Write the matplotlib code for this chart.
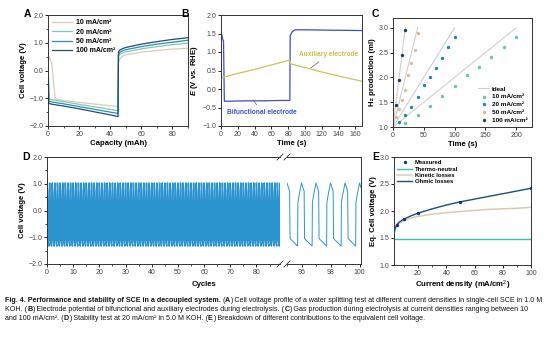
import matplotlib
matplotlib.use("Agg")
import matplotlib.pyplot as plt

plt.rcParams.update({
    "font.family": ["Liberation Sans", "DejaVu Sans"],
    "font.size": 5,
    "axes.linewidth": 0.7,
    "axes.edgecolor": "#333333",
    "xtick.direction": "out",
    "ytick.direction": "out",
    "xtick.major.size": 2.2,
    "ytick.major.size": 2.2,
    "xtick.minor.size": 1.2,
    "ytick.minor.size": 1.2,
    "xtick.major.width": 0.6,
    "ytick.major.width": 0.6,
    "xtick.minor.width": 0.5,
    "ytick.minor.width": 0.5,
    "xtick.major.pad": 1.2,
    "ytick.major.pad": 1.2,
    "xtick.labelsize": 5,
    "ytick.labelsize": 5,
    "xtick.labelcolor": "#444444",
    "ytick.labelcolor": "#444444",
    "axes.labelsize": 5.6,
    "axes.labelweight": "bold",
    "axes.labelpad": 1.5,
    "mathtext.fontset": "custom",
    "mathtext.rm": "Liberation Sans",
    "mathtext.bf": "Liberation Sans:bold",
    "mathtext.it": "Liberation Sans:italic",
    "mathtext.bfit": "Liberation Sans:italic:bold",
})

# ---- panel A: cell voltage vs capacity
A_LABELS = ["10 mA/cm²", "20 mA/cm²", "50 mA/cm²", "100 mA/cm²"]
A_COLORS = ["#d9ccb6", "#7fc8b8", "#2a8fa8", "#1d4d7c"]
A_cap_10 = [0, 1, 2.5, 3.5, 4.7, 10, 20, 30, 40, 45, 45.3, 46.5, 48, 50, 60, 70, 80, 90]
A_v_10 = [0.55, 0.45, 0.25, -0.4, -1.03, -1.08, -1.15, -1.21, -1.27, -1.30,
          0.30, 0.45, 0.52, 0.57, 0.66, 0.72, 0.77, 0.80]
A_cap_hi = [0, 0.5, 2, 10, 20, 30, 40, 45, 45.3, 46, 48, 50, 60, 70, 80, 90]
A_v_20 = [0.55, -1.00, -1.05, -1.12, -1.22, -1.31, -1.40, -1.45,
          0.50, 0.58, 0.63, 0.67, 0.78, 0.86, 0.93, 0.99]
A_v_50 = [0.55, -1.10, -1.13, -1.20, -1.30, -1.40, -1.50, -1.55,
          0.58, 0.65, 0.71, 0.75, 0.86, 0.95, 1.02, 1.09]
A_v_100 = [0.60, -1.18, -1.21, -1.28, -1.38, -1.49, -1.60, -1.66,
           0.66, 0.73, 0.79, 0.83, 0.95, 1.04, 1.12, 1.18]

# ---- panel B: electrode potentials
B_t_bif = [0, 2, 3, 4, 10, 30, 50, 70, 82, 82.5, 85, 88, 100, 130, 168]
B_e_bif = [1.55, 1.35, 1.30, -0.33, -0.33, -0.32, -0.32, -0.31, -0.31, 1.45, 1.55, 1.60, 1.60, 1.59, 1.58]
B_t_aux = [0, 20, 40, 60, 82, 83, 100, 120, 140, 168]
B_e_aux = [0.30, 0.42, 0.53, 0.65, 0.78, 0.68, 0.58, 0.46, 0.35, 0.21]

# ---- panel C: H2 production
C_ideal_end = [200, 100, 40, 20]
C_t_10 = [20, 40, 60, 80, 100, 120, 140, 160, 180, 200]
C_v_10 = [1.08, 1.25, 1.42, 1.63, 1.83, 2.04, 2.22, 2.41, 2.61, 2.81]
C_t_20 = [10, 20, 30, 40, 50, 60, 70, 80, 90, 100]
C_v_20 = [1.10, 1.25, 1.40, 1.60, 1.85, 2.00, 2.20, 2.40, 2.61, 2.82]
C_t_50 = [5, 10, 15, 20, 25, 30, 35, 40]
C_v_50 = [1.20, 1.37, 1.55, 1.75, 2.05, 2.30, 2.55, 2.90]
C_t_100 = [5, 10, 15, 20]
C_v_100 = [1.45, 1.95, 2.45, 2.95]
C_COLORS = ["#6cc3ad", "#1f8c9c", "#d5bc9c", "#163d5e"]

# ---- panel D: stability cycling (one cycle shape, peak at integer cycle)
D_offset = [-0.27, -0.25, -0.15, 0.0, 0.18, 0.21, 0.71]
D_volt = [-1.33, 0.30, 0.62, 1.03, 0.72, -1.05, -1.33]
D_left_cycles = range(0, 90)
D_right_cycles = range(95, 102)

# ---- panel E: equivalent cell voltage breakdown
E_meas_j = [5, 10, 20, 50, 100]
E_meas_v = [1.75, 1.85, 1.96, 2.17, 2.42]
E_j = [3, 4, 5, 7, 10, 15, 20, 30, 40, 50, 60, 70, 80, 90, 100]
E_kin = [1.58, 1.67, 1.73, 1.78, 1.82, 1.87, 1.90, 1.94, 1.97, 1.99, 2.01, 2.03, 2.04, 2.05, 2.07]
E_ohm = [1.60, 1.69, 1.75, 1.80, 1.85, 1.91, 1.96, 2.04, 2.11, 2.17, 2.22, 2.27, 2.32, 2.37, 2.42]
E_thermo = 1.48

# ---- caption: (text, bold) pieces per line
CAPTION = [
    [("Fig. 4. Performance and stability of SCE in a decoupled system.", True), (" (", False), ("A", True),
     (") Cell voltage profile of a water splitting test at different current densities in single-cell SCE in 1.0 M", False)],
    [("KOH. (", False), ("B", True),
     (") Electrode potential of bifunctional and auxiliary electrodes during electrolysis. (", False), ("C", True),
     (") Gas production during electrolysis at current densities ranging between 10", False)],
    [("and 100 mA/cm². (", False), ("D", True), (") Stability test at 20 mA/cm² in 5.0 M KOH. (", False), ("E", True),
     (") Breakdown of different contributions to the equivalent cell voltage.", False)],
]

W, H = 554, 340


def px_axes(x0, y0, x1, y1):
    return fig.add_axes([x0 / W, 1 - y1 / H, (x1 - x0) / W, (y1 - y0) / H])


def panel_label(x, y, s):
    fig.text(x / W, 1 - y / H, s, fontsize=7.5, fontweight="bold", ha="left", va="center")


fig = plt.figure(figsize=(W / 100, H / 100), dpi=100)

# A
ax = px_axes(48, 15, 188, 126)
ax.plot(A_cap_10, A_v_10, color=A_COLORS[0], lw=0.9, label=A_LABELS[0])
for vals, col, lab in zip([A_v_20, A_v_50, A_v_100], A_COLORS[1:], A_LABELS[1:]):
    ax.plot(A_cap_hi, vals, color=col, lw=0.9, label=lab)
ax.set_xlim(0, 90)
ax.set_ylim(-2, 2)
ax.set_xticks([0, 20, 40, 60, 80])
ax.set_xticks([10, 30, 50, 70, 90], minor=True)
ax.set_yticks([-2, -1, 0, 1, 2])
ax.set_yticks([-1.5, -0.5, 0.5, 1.5], minor=True)
ax.set_yticklabels(["−2.0", "−1.0", "0.0", "1.0", "2.0"])
ax.set_xlabel("Capacity (mAh)")
ax.set_ylabel("Cell voltage (V)")
ax.legend(loc="upper left", frameon=False, handlelength=2.8,
          borderaxespad=0.2, labelspacing=0.35, handletextpad=0.6,
          prop={"weight": "bold", "size": 5})
panel_label(24, 14, "A")

# B
ax = px_axes(221, 15, 362, 126)
ax.plot(B_t_bif, B_e_bif, color="#3a4fc8", lw=0.9)
ax.plot(B_t_aux, B_e_aux, color="#c9c45a", lw=0.9)
ax.set_xlim(0, 168)
ax.set_ylim(-1, 2)
ax.set_xticks(range(0, 161, 20))
ax.set_yticks([-1, -0.5, 0, 0.5, 1, 1.5, 2])
ax.set_yticklabels(["−1.0", "−0.5", "0.0", "0.5", "1.0", "1.5", "2.0"])
ax.set_xlabel("Time (s)")
ax.set_ylabel(r"$\mathbfit{E}$ (V vs. RHE)")
ax.annotate("Auxiliary electrode", xy=(107, 0.57), xytext=(128, 0.93), ha="center", va="center",
            color="#c8c050", fontsize=4.8, fontweight="bold",
            arrowprops=dict(arrowstyle="-", color="#666666", lw=0.5, shrinkA=1, shrinkB=0))
ax.annotate("Bifunctional electrode", xy=(38, -0.29), xytext=(49, -0.63), ha="center", va="center",
            color="#3a56c8", fontsize=4.8, fontweight="bold",
            arrowprops=dict(arrowstyle="-", color="#666666", lw=0.5, shrinkA=1, shrinkB=0))
panel_label(181, 14, "B")

# C
ax = px_axes(393, 18, 532, 127)
for i, end in enumerate(C_ideal_end):
    ax.plot([0, end], [1.0, 3.0], color="#cfcfcf", lw=0.8, label="Ideal" if i == 0 else None)
for t, v, col, lab in zip([C_t_10, C_t_20, C_t_50, C_t_100], [C_v_10, C_v_20, C_v_50, C_v_100],
                          C_COLORS, A_LABELS):
    ax.scatter(t, v, s=6, color=col, lw=0, label=lab, zorder=3)
ax.set_xlim(0, 226)
ax.set_ylim(1.0, 3.2)
ax.set_xticks([0, 50, 100, 150, 200])
ax.set_yticks([1.0, 1.5, 2.0, 2.5, 3.0])
ax.set_xlabel("Time (s)")
ax.set_ylabel("H₂ production (ml)")
ax.legend(loc="lower right", frameon=False, handlelength=1.6, borderaxespad=0.3,
          labelspacing=0.35, handletextpad=0.5, prop={"weight": "bold", "size": 4.6})
panel_label(372, 14, "C")

# D
dcol = "#2b94cf"
axl = px_axes(47, 157, 280, 264)
axr = px_axes(287, 157, 361, 264)
for axd, cycles, lw in [(axl, D_left_cycles, 1.1), (axr, D_right_cycles, 0.7)]:
    xs, ys = [], []
    for n in cycles:
        xs += [n + o for o in D_offset[:-1]]
        ys += D_volt[:-1]
    axd.plot(xs, ys, color=dcol, lw=lw)
    axd.set_ylim(-2, 2)
axl.set_xlim(0, 89)
axr.set_xlim(95, 100.1)
axl.spines["right"].set_visible(False)
axr.spines["left"].set_visible(False)
axr.tick_params(axis="y", which="both", left=False, labelleft=False)
axl.set_xticks(range(0, 81, 10))
axl.set_xticks(range(5, 86, 10), minor=True)
axr.set_xticks([96, 98, 100])
axr.set_xticks([95, 97, 99], minor=True)
axl.set_yticks([-2, -1, 0, 1, 2])
axl.set_yticks([-1.5, -0.5, 0.5, 1.5], minor=True)
axl.set_yticklabels(["−2.0", "−1.0", "0.0", "1.0", "2.0"])
axl.set_ylabel("Cell voltage (V)")
fig.text(204 / W, 1 - 284 / H, "Cycles", fontsize=5.6, fontweight="bold", ha="center", va="center")
# break marks
for yb in (157, 264):
    for xb in (280, 287):
        fig.add_artist(plt.Line2D([(xb - 3) / W, (xb + 3) / W], [1 - (yb + 3) / H, 1 - (yb - 3) / H],
                                  color="#333333", lw=0.6))
panel_label(22, 157, "D")

# E
ax = px_axes(394, 157, 531, 265)
ax.plot(E_meas_j, E_meas_v, "o", color="#1a2a7c", ms=2.4, mew=0, label="Measured", zorder=4)
ax.axhline(E_thermo, color="#3cbfb2", lw=1.0, label="Thermo-neutral")
ax.plot(E_j, E_kin, color="#d8cbb4", lw=1.1, label="Kinetic losses")
ax.plot(E_j, E_ohm, color="#1f4e7a", lw=1.0, label="Ohmic losses", zorder=3)
ax.set_xlim(3, 100)
ax.set_ylim(1.0, 3.0)
ax.set_xticks([20, 40, 60, 80, 100])
ax.set_xticks([10, 30, 50, 70, 90], minor=True)
ax.set_yticks([1.0, 1.5, 2.0, 2.5, 3.0])
ax.set_xlabel("Current density (mA/cm$^2$)")
ax.set_ylabel("Eq. Cell voltage (V)")
ax.legend(loc="upper left", frameon=False, handlelength=2.6, borderaxespad=0.15,
          labelspacing=0.2, handletextpad=0.4, prop={"weight": "bold", "size": 4.2})
panel_label(372, 157, "E")

# caption, laid out piece by piece
renderer = fig.canvas.get_renderer()
for i, pieces in enumerate(CAPTION):
    x = 5 / W
    y = 1 - (302 + 9 * i) / H
    for txt, bold in pieces:
        t = fig.text(x, y, txt, fontsize=5.1, fontweight="bold" if bold else "normal",
                     ha="left", va="baseline", color="#111111")
        x += t.get_window_extent(renderer).width / fig.bbox.width

fig.savefig("out.png", dpi=100)
